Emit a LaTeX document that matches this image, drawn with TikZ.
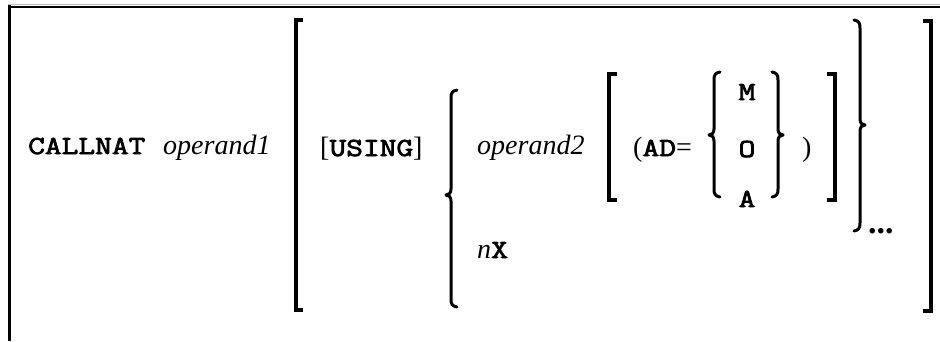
\documentclass[tikz,border=0pt]{standalone}
\usepackage{fontspec}
\setmainfont{Liberation Serif}
\newfontfamily\monofam[FakeBold=3,FakeStretch=1.25]{Latin Modern Mono}
\newcommand\drawLB[4]{% x, top, mid, bottom
  \draw[brc] (#1+6,#2) .. controls (#1+1,#2+1) and (#1,#2+3) .. (#1,#2+8)
    -- (#1,#3-6) .. controls (#1,#3-2) and (#1-2,#3) .. (#1-5,#3)
    .. controls (#1-2,#3) and (#1,#3+2) .. (#1,#3+6)
    -- (#1,#4-8) .. controls (#1,#4-3) and (#1+1,#4-1) .. (#1+6,#4);}
\newcommand\drawRB[4]{% x, top, mid, bottom
  \draw[brc] (#1-6,#2) .. controls (#1-1,#2+1) and (#1,#2+3) .. (#1,#2+8)
    -- (#1,#3-6) .. controls (#1,#3-2) and (#1+2,#3) .. (#1+5,#3)
    .. controls (#1+2,#3) and (#1,#3+2) .. (#1,#3+6)
    -- (#1,#4-8) .. controls (#1,#4-3) and (#1-1,#4-1) .. (#1-6,#4);}
\newcommand\kwfont{\fontsize{26}{30}\selectfont\monofam}
\begin{document}
\begin{tikzpicture}[x=1pt,y=-1pt,
  txt/.style={inner sep=0pt, anchor=base west, font=\fontsize{28}{30}\selectfont},
  kw/.style={inner sep=0pt, anchor=base west, font=\kwfont},
  op/.style={inner sep=0pt, anchor=base west, font=\fontsize{28}{30}\selectfont\itshape},
  brk/.style={line width=4pt, line join=miter, line cap=butt},
  brc/.style={line width=3pt, line cap=round, line join=round}]
\useasboundingbox (0,0) rectangle (940,341);
% frame
\draw[gray!50, line width=1pt] (8,4.5) -- (940,4.5);
\draw[line width=2pt] (8,6.5) -- (940,6.5);
\draw[line width=3pt] (9.5,5) -- (9.5,341);
% texts
\node[kw] (callnat) at (28,154) {CALLNAT};
\node[op] (op1) at (163,154) {operand1};
\node[txt] (using) at (320,156) {[{\kwfont USING}]};
\node[op] (op2) at (477,154) {operand2};
\node[txt] (nx) at (477,258) {{\itshape n}{\kwfont X}};
\node[txt] (ad) at (633,156) {({\kwfont AD}=};
\node[kw, anchor=base] (m) at (747,100) {M};
\node[kw, anchor=base] (o) at (747,157) {O};
\node[kw, anchor=base] (a) at (747,207) {A};
\node[txt] (rp) at (802,156) {)};
\node[txt, font=\fontsize{34}{36}\selectfont\bfseries] (dots) at (868,233) {...};
% outer brackets
\draw[brk] (303,20) -- (296,20) -- (296,310) -- (303,310);
\draw[brk] (923,21) -- (931,21) -- (931,311) -- (923,311);
% inner brackets
\draw[brk] (617,74) -- (609,74) -- (609,200) -- (617,200);
\draw[brk] (827,74) -- (835,74) -- (835,200) -- (827,200);
% braces
\drawLB{451}{90}{195}{307}
\drawRB{860}{20}{125}{231}
\drawLB{714}{72}{135}{197}
\drawRB{778}{72}{135}{197}
\end{tikzpicture}
\end{document}
